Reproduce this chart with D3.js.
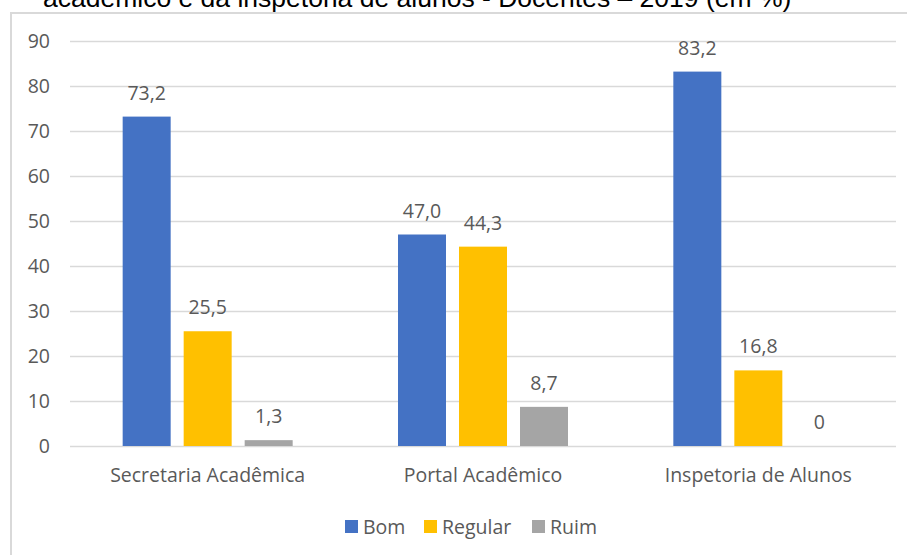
<!DOCTYPE html>
<html>
<head>
<meta charset="utf-8">
<script src="https://cdn.jsdelivr.net/npm/d3@7"></script>
<style>
  body { margin: 0; background: #fff; }
  text { font-family: "Open Sans", "Noto Sans", sans-serif; fill: #595959; }
</style>
</head>
<body>
<svg></svg>
<script>
const categories = ["Secretaria Acadêmica", "Portal Acadêmico", "Inspetoria de Alunos"];
const seriesNames = ["Bom", "Regular", "Ruim"];
const bom = [73.2, 47.0, 83.2];
const regular = [25.5, 44.3, 16.8];
const ruim = [1.3, 8.7, 0];
const yTicks = [0, 10, 20, 30, 40, 50, 60, 70, 80, 90];
const colors = ["#4472C4", "#FFC000", "#A5A5A5"];

const values = [bom, regular, ruim];
const fmt = v => v === 0 ? "0" : v.toFixed(1).replace(".", ",");

const W = 907, H = 555;
const fs = "19.5px";
const svg = d3.select("svg").attr("width", W).attr("height", H);

// frame of the chart (cut on the right and bottom)
svg.append("path")
  .attr("d", `M${W + 5},13 H11 V${H + 5}`)
  .attr("fill", "none")
  .attr("stroke", "#D9D9D9")
  .attr("stroke-width", 2);

// title, partly cut off at the top
svg.append("text")
  .attr("x", 43)
  .attr("y", 7)
  .style("font-family", "'Liberation Sans', Arial, sans-serif")
  .style("font-size", "26.5px")
  .style("fill", "#000")
  .text("acadêmico e da inspetoria de alunos - Docentes – 2019 (em %)");

const plotLeft = 70, plotRight = 896, plotTop = 41, plotBottom = 446;

const y = d3.scaleLinear().domain([0, 90]).range([plotBottom, plotTop]);
const x0 = d3.scaleBand().domain(categories).range([plotLeft, plotRight]).padding(0);
const x1 = d3.scaleBand().domain(seriesNames).range([0, 170]).paddingInner(13 / 61);

// gridlines
svg.append("g")
  .attr("transform", `translate(${plotLeft},0)`)
  .call(d3.axisLeft(y).tickValues(yTicks).tickSize(-(plotRight - plotLeft)).tickFormat(""))
  .call(g => g.select(".domain").remove())
  .call(g => g.selectAll("line").attr("stroke", "#D9D9D9").attr("stroke-width", 1.5));

// y labels
svg.append("g")
  .selectAll("text")
  .data(yTicks)
  .join("text")
  .attr("x", 50)
  .attr("y", d => y(d) + 7)
  .attr("text-anchor", "end")
  .style("font-size", fs)
  .text(d => d);

// bars
const groups = svg.append("g")
  .selectAll("g")
  .data(categories)
  .join("g")
  .attr("transform", d => `translate(${x0(d) + (x0.bandwidth() - 170) / 2},0)`);

groups.selectAll("rect")
  .data((d, i) => seriesNames.map((s, j) => ({ s, v: values[j][i], c: colors[j] })))
  .join("rect")
  .attr("x", d => x1(d.s))
  .attr("y", d => y(d.v))
  .attr("width", x1.bandwidth())
  .attr("height", d => plotBottom - y(d.v))
  .attr("fill", d => d.c);

groups.selectAll("text")
  .data((d, i) => seriesNames.map((s, j) => ({ s, v: values[j][i] })))
  .join("text")
  .attr("x", d => x1(d.s) + x1.bandwidth() / 2)
  .attr("y", d => y(d.v) - 17)
  .attr("text-anchor", "middle")
  .style("font-size", fs)
  .text(d => fmt(d.v));

// category labels
svg.append("g")
  .selectAll("text")
  .data(categories)
  .join("text")
  .attr("x", d => x0(d) + x0.bandwidth() / 2)
  .attr("y", 482)
  .attr("text-anchor", "middle")
  .style("font-size", fs)
  .text(d => d);

// legend
const legendX = [345, 424, 532];
const legend = svg.append("g")
  .selectAll("g")
  .data(seriesNames)
  .join("g")
  .attr("transform", (d, i) => `translate(${legendX[i]},520)`);
legend.append("rect")
  .attr("width", 13).attr("height", 13)
  .attr("fill", (d, i) => colors[i]);
legend.append("text")
  .attr("x", 18)
  .attr("y", 13.5)
  .style("font-size", fs)
  .text(d => d);
</script>
</body>
</html>
